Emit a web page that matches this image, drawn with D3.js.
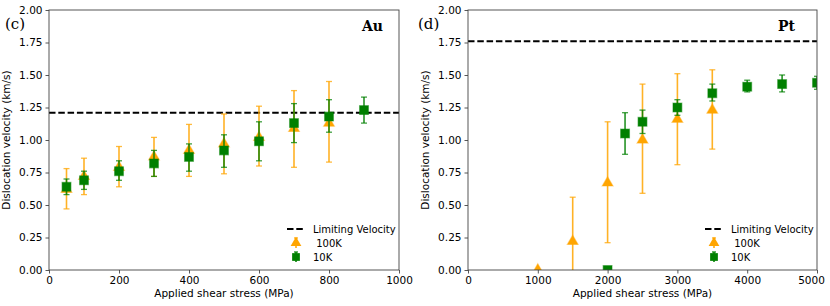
<!DOCTYPE html>
<html>
<head>
<script src="https://d3js.org/d3.v7.min.js"></script>
<style>
  body { margin: 0; background: #fff; }
  text { font-family: "DejaVu Sans", sans-serif; }
</style>
</head>
<body>
<div id="chart"></div>
<script>
    // Au panel (c)
    var auStress100 = [50, 100, 200, 300, 400, 500, 600, 700, 800];
    var auVel100 = [0.62, 0.72, 0.79, 0.87, 0.92, 0.97, 1.02, 1.09, 1.13];
    var auLo100 = [0.47, 0.58, 0.64, 0.72, 0.72, 0.74, 0.80, 0.79, 0.83];
    var auHi100 = [0.78, 0.86, 0.95, 1.02, 1.12, 1.20, 1.26, 1.38, 1.45];
    var auStress10 = [50, 100, 200, 300, 400, 500, 600, 700, 800, 900];
    var auVel10 = [0.64, 0.69, 0.76, 0.82, 0.87, 0.92, 0.99, 1.13, 1.18, 1.23];
    var auLo10 = [0.58, 0.62, 0.69, 0.72, 0.76, 0.79, 0.84, 0.98, 1.06, 1.13];
    var auHi10 = [0.70, 0.76, 0.84, 0.92, 0.97, 1.04, 1.14, 1.28, 1.31, 1.33];
    var auLimit = 1.21;
    var auXTicks = [0, 200, 400, 600, 800, 1000];

    // Pt panel (d)
    var ptStress100 = [1000, 1500, 2000, 2500, 3000, 3500];
    var ptVel100 = [0.0, 0.22, 0.67, 1.00, 1.16, 1.23];
    var ptLo100 = [0.0, -0.12, 0.21, 0.59, 0.81, 0.93];
    var ptHi100 = [0.0, 0.56, 1.14, 1.43, 1.51, 1.54];
    var ptStress10 = [2000, 2250, 2500, 3000, 3500, 4000, 4500, 5000];
    var ptVel10 = [0.0, 1.05, 1.14, 1.25, 1.36, 1.41, 1.43, 1.44];
    var ptLo10 = [0.0, 0.89, 1.05, 1.19, 1.30, 1.37, 1.37, 1.39];
    var ptHi10 = [0.0, 1.21, 1.23, 1.31, 1.43, 1.46, 1.50, 1.49];
    var ptLimit = 1.76;
    var ptXTicks = [0, 1000, 2000, 3000, 4000, 5000];

    var yTicks = [0, 0.25, 0.5, 0.75, 1.0, 1.25, 1.5, 1.75, 2.0];

    var W = 830, H = 306;
    var svg = d3.select("#chart").append("svg")
        .attr("width", W).attr("height", H);

    var orange = "#ffa500", green = "#008000";

    function zip(xs, v, lo, hi) {
        return xs.map(function (x, i) { return { x: x, v: v[i], lo: lo[i], hi: hi[i] }; });
    }

    function drawPanel(opt) {
        var g = svg.append("g").attr("transform", "translate(" + opt.left + "," + opt.top + ")");
        var w = opt.width, h = opt.height;
        var x = d3.scaleLinear().domain(opt.xDomain).range([0, w]);
        var y = d3.scaleLinear().domain([0, 2]).range([h, 0]);

        var clipId = "clip" + opt.id;
        g.append("clipPath").attr("id", clipId)
            .append("rect").attr("x", 0).attr("y", 0).attr("width", w).attr("height", h);
        var plot = g.append("g").attr("clip-path", "url(#" + clipId + ")");

        // limiting velocity line
        plot.append("line")
            .attr("x1", 0).attr("x2", w)
            .attr("y1", y(opt.limit)).attr("y2", y(opt.limit))
            .attr("stroke", "#000").attr("stroke-width", 2)
            .attr("stroke-dasharray", "6.5,2.8");

        var series = [
            { data: opt.s100, color: orange, shape: d3.symbolTriangle, size: 50 },
            { data: opt.s10, color: green, shape: d3.symbolSquare, size: 78 }
        ];
        series.forEach(function (s) {
            var sg = plot.append("g");
            var pts = s.data.filter(function (d) { return d.hi > d.lo; });
            sg.selectAll(".eb").data(pts).enter().append("line")
                .attr("x1", function (d) { return x(d.x); })
                .attr("x2", function (d) { return x(d.x); })
                .attr("y1", function (d) { return y(d.lo); })
                .attr("y2", function (d) { return y(d.hi); })
                .attr("stroke", s.color).attr("stroke-width", 1.6).attr("opacity", 0.85);
            ["lo", "hi"].forEach(function (k) {
                sg.selectAll(".cap" + k).data(pts).enter().append("line")
                    .attr("x1", function (d) { return x(d.x) - 3; })
                    .attr("x2", function (d) { return x(d.x) + 3; })
                    .attr("y1", function (d) { return y(d[k]); })
                    .attr("y2", function (d) { return y(d[k]); })
                    .attr("stroke", s.color).attr("stroke-width", 1.3).attr("opacity", 0.75);
            });
            sg.selectAll(".mk").data(s.data).enter().append("path")
                .attr("d", d3.symbol().type(s.shape).size(s.size))
                .attr("transform", function (d) { return "translate(" + x(d.x) + "," + y(d.v) + ")"; })
                .attr("fill", s.color)
                .attr("stroke", s.color).attr("stroke-opacity", 0.45).attr("stroke-width", 1.2);
        });

        // axes
        var xAxis = g.append("g").attr("transform", "translate(0," + h + ")")
            .call(d3.axisBottom(x).tickValues(opt.xTicks).tickSize(3.5).tickPadding(3).tickFormat(d3.format("d")));
        var yAxis = g.append("g")
            .call(d3.axisLeft(y).tickValues(yTicks).tickSize(3.5).tickPadding(3).tickFormat(d3.format(".2f")));
        [xAxis, yAxis].forEach(function (a) {
            a.select(".domain").remove();
            a.selectAll("line").attr("stroke", "#444").attr("stroke-width", 0.9);
            a.selectAll("text").attr("fill", "#000").style("font-size", "10.5px")
                .style("font-family", "DejaVu Sans");
        });
        if (opt.lastTickShift) {
            xAxis.selectAll(".tick text").filter(function (d) { return d === opt.xDomain[1]; })
                .attr("dx", opt.lastTickShift);
        }
        g.append("rect").attr("x", 0).attr("y", 0).attr("width", w).attr("height", h)
            .attr("fill", "none").attr("stroke", "#444").attr("stroke-width", 0.9);

        g.append("text").attr("x", w / 2).attr("y", h + 27)
            .attr("text-anchor", "middle").style("font-size", "10.5px")
            .text("Applied shear stress (MPa)");
        g.append("text")
            .attr("transform", "translate(" + (opt.yLabelX) + "," + (h / 2) + ") rotate(-90)")
            .attr("text-anchor", "middle").style("font-size", "10.5px")
            .text("Dislocation velocity (km/s)");

        // panel label & metal
        svg.append("text").attr("x", opt.tagX).attr("y", opt.top + 19)
            .style("font-family", "DejaVu Serif").style("font-size", "15px")
            .text(opt.tag);
        g.append("text").attr("x", w - opt.metalRight).attr("y", 21).attr("text-anchor", "end")
            .style("font-family", "DejaVu Serif").style("font-weight", "bold").style("font-size", "14px")
            .text(opt.metal);

        // legend
        var lg = g.append("g").attr("transform", "translate(" + (w - 112) + "," + (h - 41) + ")");
        lg.append("line").attr("x1", 0).attr("x2", 18).attr("y1", 0).attr("y2", 0)
            .attr("stroke", "#000").attr("stroke-width", 2).attr("stroke-dasharray", "6.5,2.8");
        lg.append("text").attr("x", 26).attr("y", 4).style("font-size", "10px").text("Limiting Velocity");
        var legItems = [
            { label: " 100K", color: orange, shape: d3.symbolTriangle, size: 50, dy: 14 },
            { label: "10K", color: green, shape: d3.symbolSquare, size: 60, dy: 28 }
        ];
        legItems.forEach(function (it) {
            lg.append("line").attr("x1", 9).attr("x2", 9).attr("y1", it.dy - 5).attr("y2", it.dy + 5)
                .attr("stroke", it.color).attr("stroke-width", 1.5);
            lg.append("line").attr("x1", 7).attr("x2", 11).attr("y1", it.dy - 5).attr("y2", it.dy - 5)
                .attr("stroke", it.color).attr("stroke-width", 1.2);
            lg.append("path").attr("d", d3.symbol().type(it.shape).size(it.size))
                .attr("transform", "translate(9," + it.dy + ")").attr("fill", it.color);
            lg.append("text").attr("x", 26).attr("y", it.dy + 4).style("font-size", "10px")
                .style("white-space", "pre").text(it.label);
        });
    }

    drawPanel({
        id: "au", left: 49, top: 10, width: 350, height: 260,
        xDomain: [0, 1000], xTicks: auXTicks, limit: auLimit,
        s100: zip(auStress100, auVel100, auLo100, auHi100),
        s10: zip(auStress10, auVel10, auLo10, auHi10),
        yLabelX: -39, tag: "(c)", tagX: 5, metal: "Au", metalRight: 16
    });
    drawPanel({
        id: "pt", left: 468, top: 10, width: 349, height: 260,
        xDomain: [0, 5000], xTicks: ptXTicks, limit: ptLimit,
        s100: zip(ptStress100, ptVel100, ptLo100, ptHi100),
        s10: zip(ptStress10, ptVel10, ptLo10, ptHi10),
        yLabelX: -39, tag: "(d)", tagX: 418, metal: "Pt", metalRight: 22,
        lastTickShift: -6
    });
</script>
</body>
</html>
